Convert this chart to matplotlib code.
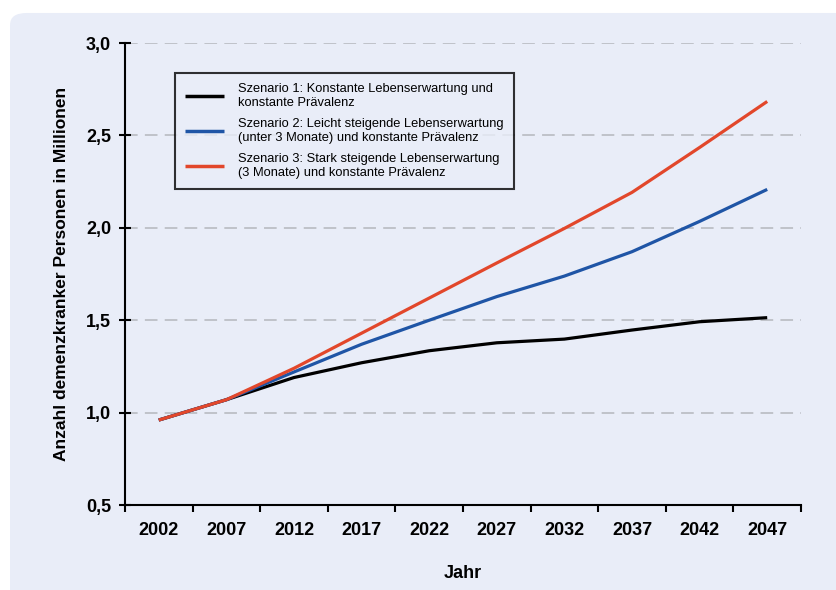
import numpy as np
import matplotlib
matplotlib.use("Agg")
import matplotlib.pyplot as plt
from matplotlib.patches import FancyBboxPatch
from matplotlib.ticker import FixedLocator

plt.rcParams['font.family'] = ['Liberation Sans', 'DejaVu Sans']

years = ['2002', '2007', '2012', '2017', '2022', '2027', '2032', '2037', '2042', '2047']
szenario1 = [0.96, 1.07, 1.19, 1.27, 1.335, 1.378, 1.398, 1.447, 1.492, 1.514]
szenario2 = [0.96, 1.07, 1.22, 1.37, 1.50, 1.628, 1.739, 1.871, 2.035, 2.208]
szenario3 = [0.96, 1.07, 1.24, 1.43, 1.62, 1.81, 1.997, 2.192, 2.435, 2.684]
labels = ['Szenario 1: Konstante Lebenserwartung und\nkonstante Prävalenz',
          'Szenario 2: Leicht steigende Lebenserwartung\n(unter 3 Monate) und konstante Prävalenz',
          'Szenario 3: Stark steigende Lebenserwartung\n(3 Monate) und konstante Prävalenz']
colors = ['#000000', '#1f55a6', '#e2472b']

bg = '#e9edf8'
fig = plt.figure(figsize=(8.37, 5.90), dpi=100)
fig.patch.set_facecolor('white')
# rounded background panel
panel = FancyBboxPatch((0.012, -0.05), 1.05, 0.028 + 1.0, boxstyle='round,pad=0,rounding_size=0.02',
                       transform=fig.transFigure, facecolor=bg, edgecolor='none', zorder=-10)
fig.patches.append(panel)

ax = fig.add_axes([0.1493, 0.144, 0.8077, 0.783])
ax.set_zorder(5)
ax.patch.set_alpha(0)

x = np.arange(len(years))
for vals, lab, c in zip([szenario1, szenario2, szenario3], labels, colors):
    ax.plot(x, vals, color=c, lw=2.3, label=lab, solid_capstyle='butt', zorder=3)

ax.set_xlim(-0.5, len(years) - 0.5)
ax.set_ylim(0.5, 3.0)
ax.set_yticks([0.5, 1.0, 1.5, 2.0, 2.5, 3.0])
ax.set_yticklabels(['0,5', '1,0', '1,5', '2,0', '2,5', '3,0'])
ax.set_xticks(x)
ax.set_xticklabels(years)
ax.xaxis.set_minor_locator(FixedLocator(np.arange(-0.5, len(years), 1.0)))
ax.tick_params(axis='x', which='major', length=0, pad=12, labelsize=13)
ax.tick_params(axis='x', which='minor', length=5, width=1.5, direction='out')
ax.tick_params(axis='y', which='major', length=8, width=1.5, direction='inout', pad=6, labelsize=13)
for t in ax.get_xticklabels() + ax.get_yticklabels():
    t.set_fontweight('bold')

ax.grid(axis='y', color='#bcbfc6', linestyle=(0, (7, 4)), lw=1.3, zorder=1)
for s in ['top', 'right']:
    ax.spines[s].set_visible(False)
for s in ['left', 'bottom']:
    ax.spines[s].set_linewidth(1.5)

ax.set_ylabel('Anzahl demenzkranker Personen in Millionen', fontsize=12.5, fontweight='bold', labelpad=12)
ax.set_xlabel('Jahr', fontsize=13, fontweight='bold', labelpad=19)

leg = ax.legend(loc='upper left', bbox_to_anchor=(0.074, 0.935), borderaxespad=0, fontsize=9.3,
                frameon=True, fancybox=False, handlelength=3.0, handletextpad=1.1, labelspacing=0.7,
                borderpad=0.8, edgecolor='black', facecolor=bg)
leg.get_frame().set_linewidth(1.5)
for line in leg.get_lines():
    line.set_linewidth(2.5)

fig.savefig('out.png', dpi=100, facecolor=fig.get_facecolor())
